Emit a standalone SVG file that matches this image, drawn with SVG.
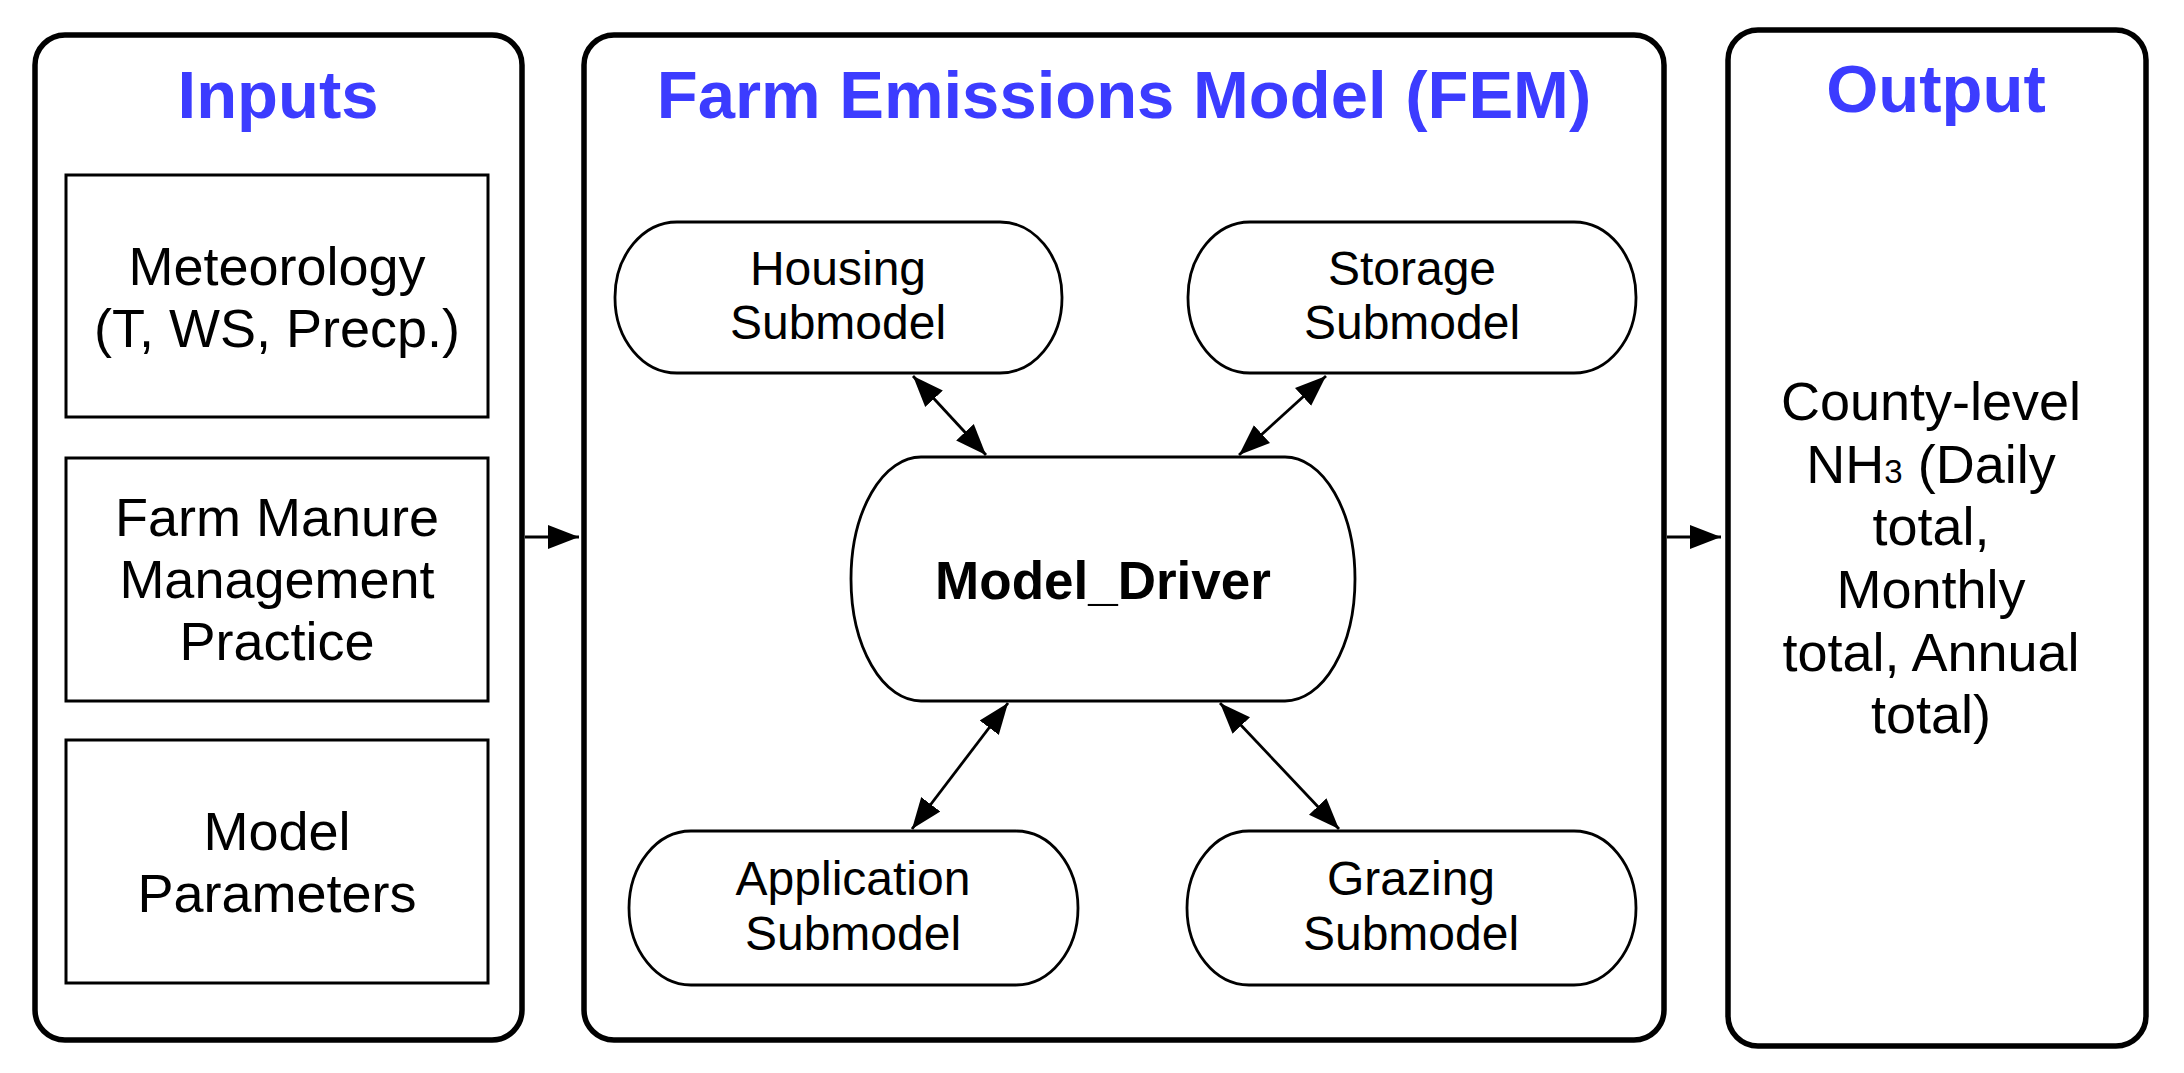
<svg xmlns="http://www.w3.org/2000/svg" width="2184" height="1073" viewBox="0 0 2184 1073">
<style>
.panel{fill:#fff;stroke:#000;stroke-width:5.5}
.box{fill:#fff;stroke:#000;stroke-width:3}
.sub{fill:#fff;stroke:#000;stroke-width:2.8}
.title{font-family:"Liberation Sans",Arial,sans-serif;font-weight:bold;font-size:67px;fill:#3c3cff;text-anchor:middle}
.t{font-family:"Liberation Sans",Arial,sans-serif;font-size:54px;fill:#000;text-anchor:middle}
.s{font-family:"Liberation Sans",Arial,sans-serif;font-size:48px;fill:#000;text-anchor:middle}
.b{font-family:"Liberation Sans",Arial,sans-serif;font-size:53px;font-weight:bold;fill:#000;text-anchor:middle}
.c{stroke:#000;stroke-width:2.8;fill:none}
</style>
<defs>
<marker id="ah" markerUnits="userSpaceOnUse" markerWidth="32" markerHeight="26" viewBox="0 0 32 26" refX="31" refY="13" orient="auto-start-reverse">
<path d="M0,1 L31,13 L0,25 Z" fill="#000"/>
</marker>
</defs>
<rect width="2184" height="1073" fill="#fff"/>
<g id="inputs">
<rect class="panel" x="35" y="35" width="487" height="1005" rx="30" ry="30"/>
<text class="title" x="278" y="118">Inputs</text>
</g>
<g id="meteorology">
<rect class="box" x="66" y="175" width="422" height="242"/>
<text class="t" x="277" y="285">Meteorology</text>
<text class="t" x="277" y="347">(T, WS, Precp.)</text>
</g>
<g id="manure">
<rect class="box" x="66" y="458" width="422" height="243"/>
<text class="t" x="277" y="536">Farm Manure</text>
<text class="t" x="277" y="598">Management</text>
<text class="t" x="277" y="660">Practice</text>
</g>
<g id="parameters">
<rect class="box" x="66" y="740" width="422" height="243"/>
<text class="t" x="277" y="850">Model</text>
<text class="t" x="277" y="912">Parameters</text>
</g>
<g id="fem">
<rect class="panel" x="584" y="35" width="1080" height="1005" rx="30" ry="30"/>
<text class="title" x="1124" y="118">Farm Emissions Model (FEM)</text>
</g>
<g id="housing">
<rect class="sub" x="615" y="222" width="447" height="151" rx="62" ry="75"/>
<text class="s" x="838" y="285">Housing</text>
<text class="s" x="838" y="339">Submodel</text>
</g>
<g id="storage">
<rect class="sub" x="1188" y="222" width="448" height="151" rx="62" ry="75"/>
<text class="s" x="1412" y="285">Storage</text>
<text class="s" x="1412" y="339">Submodel</text>
</g>
<g id="driver">
<rect class="sub" x="851" y="457" width="504" height="244" rx="70" ry="122"/>
<text class="b" x="1103" y="599">Model_Driver</text>
</g>
<g id="application">
<rect class="sub" x="629" y="831" width="449" height="154" rx="62" ry="77"/>
<text class="s" x="853" y="895">Application</text>
<text class="s" x="853" y="950">Submodel</text>
</g>
<g id="grazing">
<rect class="sub" x="1187" y="831" width="449" height="154" rx="62" ry="77"/>
<text class="s" x="1411" y="895">Grazing</text>
<text class="s" x="1411" y="950">Submodel</text>
</g>
<g id="output">
<rect class="panel" x="1728" y="30" width="418" height="1016" rx="30" ry="30"/>
<text class="title" x="1936" y="112">Output</text>
<text class="t" x="1931" y="420">County-level</text>
<text class="t" x="1931" y="483">NH<tspan font-size="33px">3</tspan> (Daily</text>
<text class="t" x="1931" y="545">total,</text>
<text class="t" x="1931" y="608">Monthly</text>
<text class="t" x="1931" y="671">total, Annual</text>
<text class="t" x="1931" y="733">total)</text>
</g>
<g id="connectors">
<line class="c" x1="525" y1="537" x2="579" y2="537" marker-end="url(#ah)"/>
<line class="c" x1="1667" y1="537" x2="1721" y2="537" marker-end="url(#ah)"/>
<line class="c" x1="913" y1="376" x2="986" y2="455" marker-start="url(#ah)" marker-end="url(#ah)"/>
<line class="c" x1="1326" y1="376" x2="1239" y2="455" marker-start="url(#ah)" marker-end="url(#ah)"/>
<line class="c" x1="1008" y1="703" x2="912" y2="829" marker-start="url(#ah)" marker-end="url(#ah)"/>
<line class="c" x1="1220" y1="703" x2="1339" y2="829" marker-start="url(#ah)" marker-end="url(#ah)"/>
</g>
</svg>
